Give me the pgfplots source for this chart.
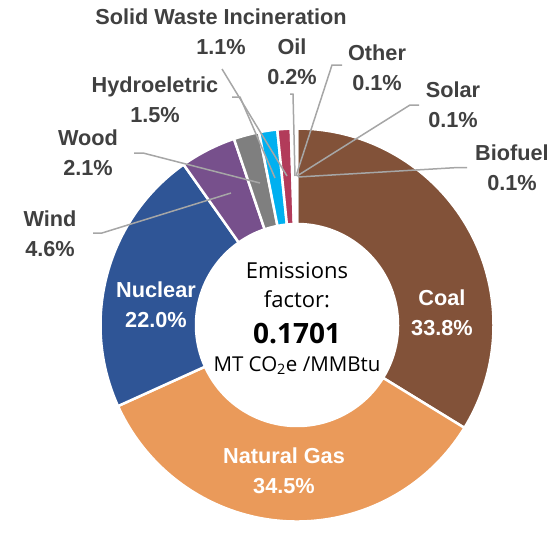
\documentclass[border=0pt]{standalone}
\usepackage{pgfplots}
\pgfplotsset{compat=1.18}
\usepackage{pgfplotstable}
\usepackage{fontspec}
\setmainfont{Liberation Sans}
\newfontfamily\centerfont{Open Sans}
\definecolor{c0}{HTML}{825239}
\definecolor{c1}{HTML}{EA9A5A}
\definecolor{c2}{HTML}{2F5596}
\definecolor{c3}{HTML}{77508C}
\definecolor{c4}{HTML}{7F7F7F}
\definecolor{c5}{HTML}{00B0F0}
\definecolor{c6}{HTML}{B23B5A}
\definecolor{c7}{HTML}{C00000}
\definecolor{c8}{HTML}{A5A5A5}
\definecolor{c9}{HTML}{FFC000}
\definecolor{c10}{HTML}{70AD47}
\definecolor{labelgray}{HTML}{404040}
\definecolor{leader}{HTML}{A6A6A6}

\pgfplotstableread{
source value
Coal 33.8
NaturalGas 34.5
Nuclear 22.0
Wind 4.6
Wood 2.1
Hydroeletric 1.5
SolidWaste 1.1
Oil 0.2
Other 0.1
Solar 0.1
Biofuel 0.1
}\energydata

\begin{document}
\begin{tikzpicture}
% cumulative angles from the table
\def\total{0}
\pgfplotsforeachungrouped \i in {0,...,10}{%
  \pgfplotstablegetelem{\i}{value}\of\energydata
  \pgfmathsetmacro\total{\total+\pgfplotsretval}%
}
\def\cum{0}
\pgfplotsforeachungrouped \i in {0,...,10}{%
  \pgfplotstablegetelem{\i}{value}\of\energydata
  \pgfmathsetmacro\startang{90-(\cum/\total)*360}%
  \pgfmathsetmacro\cum{\cum+\pgfplotsretval}%
  \pgfmathsetmacro\endang{90-(\cum/\total)*360}%
  \expandafter\xdef\csname sa\i\endcsname{\startang}%
  \expandafter\xdef\csname ea\i\endcsname{\endang}%
}
\begin{axis}[
  hide axis, scale only axis,
  width=559pt, height=523pt,
  xmin=0, xmax=559, ymin=0, ymax=523,
  y dir=reverse, clip=false,
]
\path (axis cs:0,0) rectangle (axis cs:559,523);
\pgfplotsinvokeforeach{0,...,10}{
  \fill[c#1, draw=white, line width=2.5pt]
    ([shift={(\csname sa#1\endcsname:196.5pt)}]axis cs:297,325)
    arc[start angle=\csname sa#1\endcsname, end angle=\csname ea#1\endcsname, radius=196.5pt]
    -- ([shift={(\csname ea#1\endcsname:101pt)}]axis cs:297,325)
    arc[start angle=\csname ea#1\endcsname, end angle=\csname sa#1\endcsname, radius=101pt]
    -- cycle;
}
% leader lines
\draw[leader, line width=1.5pt] (axis cs:93,233) -- (axis cs:102,233) -- (axis cs:231,193);
\draw[leader, line width=1.5pt] (axis cs:134,153) -- (axis cs:143,153) -- (axis cs:260,183);
\draw[leader, line width=1.5pt] (axis cs:232,97) -- (axis cs:240,97) -- (axis cs:275,178);
\draw[leader, line width=1.5pt] (axis cs:222,69) -- (axis cs:287,176);
\draw[leader, line width=1.5pt] (axis cs:290,94) -- (axis cs:293,94) -- (axis cs:295,176);
\draw[leader, line width=1.5pt] (axis cs:342,65) -- (axis cs:332,65) -- (axis cs:296,176);
\draw[leader, line width=1.5pt] (axis cs:419,105) -- (axis cs:410,105) -- (axis cs:297,176);
\draw[leader, line width=1.5pt] (axis cs:467,167.5) -- (axis cs:458,167.5) -- (axis cs:298,177);
% outer labels
\tikzset{lab/.style={font=\bfseries\fontsize{21.7}{30}\selectfont, text=labelgray, align=center, inner sep=0pt}}
\node[lab] at (axis cs:221,31.7) {Solid Waste Incineration\\1.1\%};
\node[lab] at (axis cs:155,100) {Hydroeletric\\1.5\%};
\node[lab] at (axis cs:292,62) {Oil\\0.2\%};
\node[lab] at (axis cs:377,67.5) {Other\\0.1\%};
\node[lab] at (axis cs:453,105) {Solar\\0.1\%};
\node[lab] at (axis cs:512,167.5) {Biofuel\\0.1\%};
\node[lab] at (axis cs:88,153) {Wood\\2.1\%};
\node[lab] at (axis cs:50,234) {Wind\\4.6\%};
% inner labels
\tikzset{inl/.style={font=\bfseries\fontsize{21.7}{30}\selectfont, text=white, align=center, inner sep=0pt}}
\node[inl] at (axis cs:442,313) {Coal\\33.8\%};
\node[inl] at (axis cs:156,305) {Nuclear\\22.0\%};
\node[inl] at (axis cs:284,470.5) {Natural Gas\\34.5\%};
% centre text
\node[font=\centerfont\fontsize{22}{26}\selectfont, inner sep=0pt] at (axis cs:297,270.7) {Emissions};
\node[font=\centerfont\fontsize{22}{26}\selectfont, inner sep=0pt] at (axis cs:297,299.3) {factor:};
\node[font=\centerfont\bfseries\fontsize{28}{32}\selectfont, inner sep=0pt] at (axis cs:297,333.3) {0.1701};
\node[font=\centerfont\fontsize{20.5}{24}\selectfont, inner sep=0pt] at (axis cs:297,365.7) {MT CO\textsubscript{2}e /MMBtu};
\end{axis}
\end{tikzpicture}
\end{document}
